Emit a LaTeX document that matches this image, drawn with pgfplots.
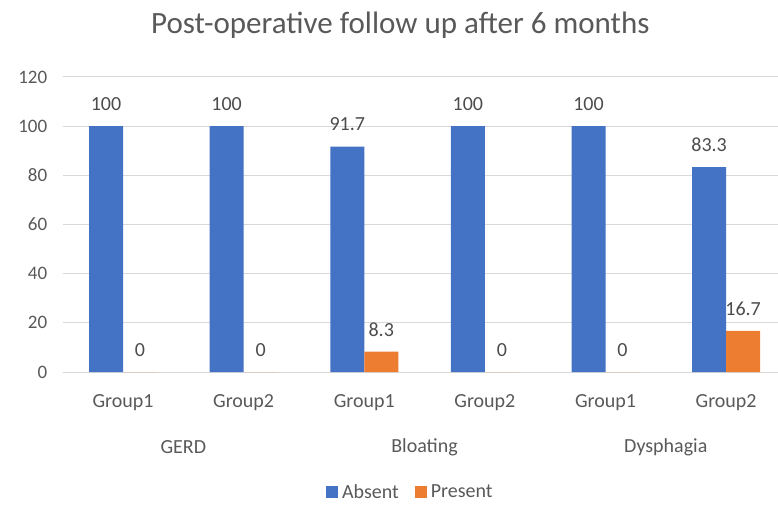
\documentclass[border=0pt]{standalone}
\usepackage{fontspec}
\setmainfont{Carlito}
\usepackage{pgfplots}
\pgfplotsset{compat=1.18}
\definecolor{cblue}{HTML}{4472C4}
\definecolor{corange}{HTML}{ED7D31}
\definecolor{gridc}{HTML}{D9D9D9}
\definecolor{txt}{HTML}{595959}
\begin{document}
\begin{tikzpicture}
\useasboundingbox (0,0) rectangle (778pt,506pt);
\begin{axis}[
  at={(62.7pt,134pt)}, anchor=south west,
  scale only axis, width=715.3pt, height=295pt,
  xmin=-0.5, xmax=5.43, ymin=0, ymax=120,
  ybar=0pt, bar width=34pt,
  ytick={0,20,...,120},
  xtick={0,...,5},
  xticklabels={Group1,Group2,Group1,Group2,Group1,Group2},
  ymajorgrids, grid style={gridc, line width=1pt},
  axis line style={draw=none},
  major tick length=0pt,
  tick label style={font=\fontsize{19}{22}\selectfont, text=txt},
  /pgf/number format/assume math mode=true,
  yticklabel style={xshift=-12pt},
  xticklabel style={anchor=center, yshift=-31pt, font=\fontsize{20}{24}\selectfont},
  nodes near coords,
  every node near coord/.append style={font=\fontsize{20}{24}\selectfont, text=txt!85!black, anchor=center, yshift=22pt},
  legend style={at={(0.486,0)}, anchor=center, yshift=-120pt, draw=none, fill=none,
    legend columns=2, font=\fontsize{20}{24}\selectfont, text=txt,
    /tikz/every odd column/.append style={column sep=2pt},
    /tikz/every even column/.append style={column sep=14pt},
    legend cell align=left},
  legend image code/.code={\fill[#1,draw=none] (0pt,-6pt) rectangle (12pt,6pt);},
  clip=false,
]
\addplot[fill=cblue, draw=none] coordinates {(0,100) (1,100) (2,91.7) (3,100) (4,100) (5,83.3)};
\addplot[fill=corange, draw=none] coordinates {(0,0) (1,0) (2,8.3) (3,0) (4,0) (5,16.7)};
\legend{Absent,Present}
\node[font=\fontsize{20}{24}\selectfont, text=txt] at (axis cs:0.5,0) [yshift=-75pt] {GERD};
\node[font=\fontsize{20}{24}\selectfont, text=txt] at (axis cs:2.5,0) [yshift=-75pt] {Bloating};
\node[font=\fontsize{20}{24}\selectfont, text=txt] at (axis cs:4.5,0) [yshift=-75pt] {Dysphagia};
\node[font=\fontsize{31}{36}\selectfont, text=txt] at (rel axis cs:0.472,1) [yshift=52pt] {Post-operative follow up after 6 months};
\end{axis}
\end{tikzpicture}
\end{document}
